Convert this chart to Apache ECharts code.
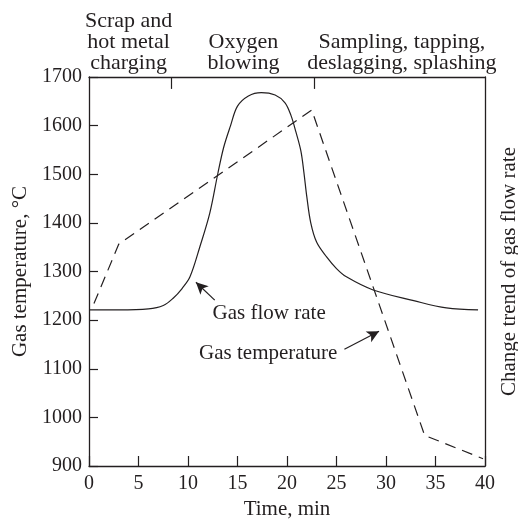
<!DOCTYPE html>
<html>
<head>
<meta charset="utf-8">
<script src="https://cdn.jsdelivr.net/npm/echarts@6/dist/echarts.min.js"></script>
<style>html,body{margin:0;padding:0;background:#fff;}#c{width:518px;height:519px;}</style>
</head>
<body>
<div id="c"></div>
<script>
// Gas temperature (dashed), °C
const tempTime = [0.5, 3.0, 22.5, 33.9, 39.8];
const tempValue = [1234, 1356, 1632, 963, 915];

// Gas flow rate trend (solid), drawn on the right (unscaled) axis with the same range
const flowTime = [0, 3, 6, 7.5, 8.5, 9.4, 10.2, 11.2, 12.2, 13.0, 13.6, 14.3, 15.0, 16.1, 17.4, 18.8, 19.8, 20.4, 20.9, 21.4, 21.7, 22.0, 22.4, 23.0, 24.0, 25.0, 26.0, 28.7, 32.8, 36.1, 39.3];
const flowValue = [1221, 1221, 1223, 1230, 1245, 1265, 1289, 1351, 1420, 1500, 1555, 1600, 1640, 1661, 1668, 1663, 1647, 1621, 1587, 1548, 1505, 1454, 1400, 1360, 1330, 1306, 1289, 1262, 1240, 1225, 1221];

// Process phases (top axis)
const phaseBoundaries = [8.3, 22.8];
const phaseCenters = [4.0, 15.6, 31.6];
const phaseLabels = ['Scrap and\nhot metal\ncharging', 'Oxygen\nblowing', 'Sampling, tapping,\ndeslagging, splashing'];

// Axis ticks
const xTicks = [0, 5, 10, 15, 20, 25, 30, 35, 40];
const yTicks = [900, 1000, 1100, 1200, 1300, 1400, 1500, 1600, 1700];

// Annotations: [label, labelX, labelY, arrowFromX, arrowFromY, arrowToX, arrowToY]
const annFlow = ['Gas flow rate', 18.2, 1214, 12.7, 1241, 10.8, 1278];
const annTemp = ['Gas temperature', 18.1, 1132, 25.8, 1140, 29.3, 1177];

const FONT = 'Liberation Serif';
const INK = '#231f20';
const FS = 21;
const Y_MAX = 1700;
const TOP_TICK_SPAN = 24.5; // length of phase-boundary ticks in y units

const chart = echarts.init(document.getElementById('c'), null, {renderer: 'canvas'});

function annSeriesParts(a) {
  return {
    point: {coord: [a[1], a[2]], value: a[0]},
    line: [{coord: [a[3], a[4]], symbol: 'none'}, {coord: [a[5], a[6]], symbol: 'arrow'}]
  };
}
const pf = annSeriesParts(annFlow), pt = annSeriesParts(annTemp);
const phaseTickLines = phaseBoundaries.map(b => [
  {coord: [b, Y_MAX], symbol: 'none'},
  {coord: [b, Y_MAX - TOP_TICK_SPAN], symbol: 'none'}
]);

const option = {
  animation: false,
  backgroundColor: '#fff',
  textStyle: {fontFamily: FONT, color: INK},
  grid: {left: 89, right: 33, top: 77, bottom: 53, containLabel: false, outerBoundsMode: 'none'},
  xAxis: [
    {
      type: 'value', min: 0, max: 40, interval: 5, position: 'bottom',
      name: 'Time, min', nameLocation: 'middle', nameGap: 27,
      nameTextStyle: {fontFamily: FONT, fontSize: FS, color: INK},
      axisLine: {show: true, lineStyle: {color: INK, width: 1.3}},
      axisTick: {show: true, inside: true, length: 10, lineStyle: {color: INK, width: 1.2}},
      axisLabel: {show: true, fontFamily: FONT, fontSize: 20, color: INK, margin: 8,
        customValues: xTicks, formatter: (v) => String(v)},
      splitLine: {show: false}
    },
    {
      type: 'value', min: 0, max: 40, position: 'top',
      axisLine: {show: true, onZero: false, lineStyle: {color: INK, width: 1.3}},
      axisTick: {show: false},
      axisLabel: {show: true, fontFamily: FONT, fontSize: 22, color: INK, margin: 3,
        lineHeight: 21, align: 'center',
        customValues: phaseCenters,
        formatter: function (v) {
          const i = phaseCenters.indexOf(v);
          return i >= 0 ? phaseLabels[i] : '';
        }},
      splitLine: {show: false}
    }
  ],
  yAxis: [
    {
      type: 'value', min: 900, max: Y_MAX, interval: 100, position: 'left',
      name: 'Gas temperature, \u00B0C', nameLocation: 'middle', nameGap: 53, nameRotate: 90,
      nameTextStyle: {fontFamily: FONT, fontSize: FS, color: INK},
      axisLine: {show: true, lineStyle: {color: INK, width: 1.3}},
      axisTick: {show: true, inside: true, length: 9, lineStyle: {color: INK, width: 1.2},
        customValues: yTicks},
      axisLabel: {show: true, fontFamily: FONT, fontSize: 20, color: INK, margin: 7,
        customValues: yTicks, formatter: (v) => String(v)},
      splitLine: {show: false}
    },
    {
      type: 'value', min: 900, max: Y_MAX, position: 'right',
      name: 'Change trend of gas flow rate', nameLocation: 'middle', nameGap: 14, nameRotate: 90,
      nameTextStyle: {fontFamily: FONT, fontSize: FS, color: INK, verticalAlign: 'top'},
      axisLine: {show: true, onZero: false, lineStyle: {color: INK, width: 1.3}},
      axisTick: {show: false},
      axisLabel: {show: false},
      splitLine: {show: false}
    }
  ],
  series: [
    {
      name: 'Gas temperature', type: 'line', xAxisIndex: 0, yAxisIndex: 0,
      data: tempTime.map((t, i) => [t, tempValue[i]]),
      showSymbol: false, symbol: 'none',
      lineStyle: {color: INK, width: 1.2, type: [11, 7]},
      markPoint: {
        symbol: 'circle', symbolSize: 0, silent: true,
        label: {show: true, position: 'inside', fontFamily: FONT, fontSize: FS, color: INK,
          formatter: (p) => p.value},
        data: [pf.point, pt.point]
      },
      markLine: {
        silent: true, symbol: ['none', 'arrow'], symbolSize: [9, 12],
        label: {show: false},
        lineStyle: {color: INK, width: 1.2, type: 'solid'},
        data: [pf.line, pt.line].concat(phaseTickLines)
      }
    },
    {
      name: 'Gas flow rate', type: 'line', xAxisIndex: 0, yAxisIndex: 1,
      data: flowTime.map((t, i) => [t, flowValue[i]]),
      smooth: 0.35, showSymbol: false, symbol: 'none',
      lineStyle: {color: INK, width: 1.2}
    }
  ]
};
chart.setOption(option);
</script>
</body>
</html>
